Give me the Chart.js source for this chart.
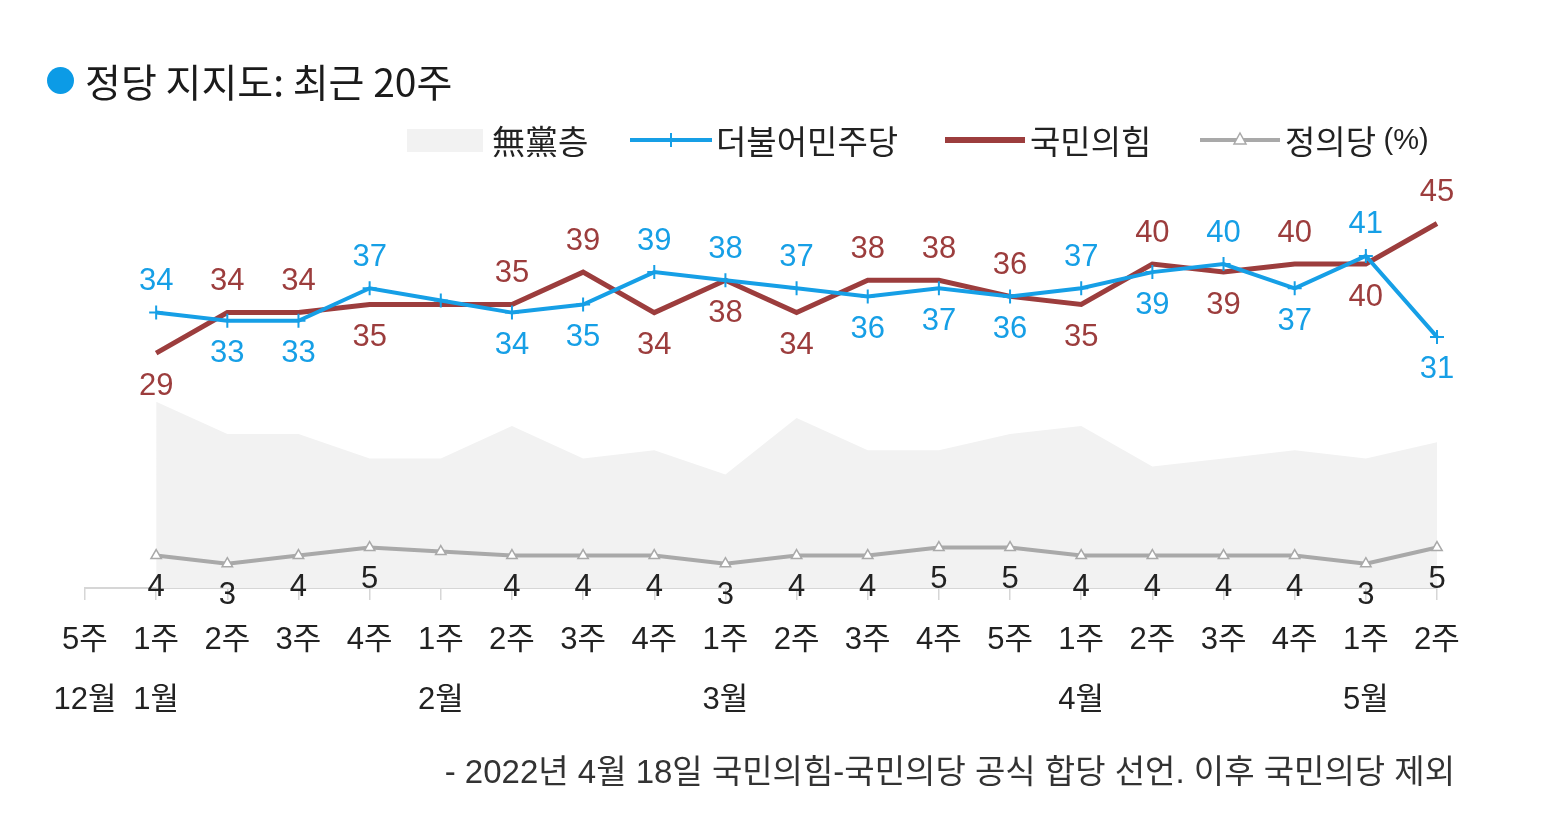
<!DOCTYPE html>
<html><head><meta charset="utf-8">
<script src="https://cdn.jsdelivr.net/npm/chart.js@4.4.1/dist/chart.umd.min.js"></script>
<style>
html,body{margin:0;padding:0;background:#fff;width:1567px;height:829px;overflow:hidden;}
#wrap{position:relative;width:1567px;height:829px;}
#c{position:absolute;left:0;top:0;}
.dot{position:absolute;left:47px;top:67px;width:27px;height:27px;border-radius:50%;background:#0c9be6;}
.title{position:absolute;left:85px;top:56px;height:48px;line-height:48px;font-family:'Noto Sans CJK KR',sans-serif;font-size:39px;color:#1b1b1b;white-space:nowrap;}
.note{position:absolute;right:112px;top:751px;line-height:42px;font-family:'Liberation Sans','Noto Sans CJK KR',sans-serif;font-size:33px;color:#333;white-space:nowrap;}
</style></head>
<body><div id="wrap"><canvas id="c" width="1567" height="829"></canvas>
<div class="dot"></div><div class="title">정당 지지도: 최근 20주</div>
<div class="note">- 2022년 4월 18일 국민의힘-국민의당 공식 합당 선언. 이후 국민의당 제외</div></div>
<script>
// ---- data ----
const weekLabels  = ['5주','1주','2주','3주','4주','1주','2주','3주','4주','1주','2주','3주','4주','5주','1주','2주','3주','4주','1주','2주'];
const monthLabels = ['12월','1월','','','','2월','','','','3월','','','','','4월','','','','5월',''];
const independents = [null,23,19,19,16,16,20,16,17,14,21,17,17,19,20,15,16,17,16,18];
const democratic   = [null,34,33,33,37,35.5,34,35,39,38,37,36,37,36,37,39,40,37,41,31];
const peoplePower  = [null,29,34,34,35,35,35,39,34,38,34,38,38,36,35,40,39,40,40,45];
const justice      = [null,4,3,4,5,4.5,4,4,4,3,4,4,5,5,4,4,4,4,3,5];
const noSurveyWeeks = [5];      // week without survey: no value label
const tieDemAbove = [9];        // equal values: which label goes above

const seriesNames = ['더불어민주당','국민의힘','정의당','無黨층'];
const C = {dem:'#169fe6', ppp:'#9c3d3d', jus:'#a9a9a9', ind:'#f2f2f2', text:'#222'};
const NUMFONT = '"Liberation Sans", Arial, sans-serif';
const KFONT = '"Noto Sans CJK KR", sans-serif';

const labelPlugin = {
  id:'valueLabels',
  afterDatasetsDraw(chart){
    const ctx = chart.ctx;
    const mDem = chart.getDatasetMeta(0), mPpp = chart.getDatasetMeta(1), mJus = chart.getDatasetMeta(2);
    ctx.save();
    ctx.font = '31px ' + NUMFONT;
    ctx.textAlign = 'center'; ctx.textBaseline = 'middle';
    for (let i = 0; i < weekLabels.length; i++) {
      if (democratic[i] == null || noSurveyWeeks.includes(i)) continue;
      const d = democratic[i], p = peoplePower[i];
      const demUp = d > p || (d === p && tieDemAbove.includes(i));
      const pd = mDem.data[i], pp = mPpp.data[i], pj = mJus.data[i];
      ctx.fillStyle = C.dem;
      ctx.fillText(String(d), pd.x, pd.y + (demUp ? -31 : 33));
      ctx.fillStyle = C.ppp;
      ctx.fillText(String(p), pp.x, pp.y + (demUp ? 33 : -31));
      ctx.fillStyle = C.text;
      ctx.fillText(String(justice[i]), pj.x, pj.y + 32);
    }
    ctx.restore();
  },
  afterDraw(chart){
    const ctx = chart.ctx;
    const y = 140;
    ctx.save();
    ctx.textBaseline = 'middle'; ctx.textAlign = 'left';
    // 無黨층 box
    ctx.fillStyle = C.ind; ctx.fillRect(407, 129, 76, 23);
    ctx.fillStyle = C.text; ctx.font = '33px ' + KFONT;
    ctx.fillText(seriesNames[3], 492, y + 1);
    // 더불어민주당
    ctx.strokeStyle = C.dem; ctx.lineWidth = 4;
    ctx.beginPath(); ctx.moveTo(630, y); ctx.lineTo(712, y); ctx.stroke();
    ctx.lineWidth = 2; ctx.beginPath(); ctx.moveTo(671, y - 7); ctx.lineTo(671, y + 7); ctx.stroke();
    ctx.fillText(seriesNames[0], 716, y + 1);
    // 국민의힘
    ctx.strokeStyle = C.ppp; ctx.lineWidth = 6;
    ctx.beginPath(); ctx.moveTo(945, y); ctx.lineTo(1025, y); ctx.stroke();
    ctx.fillText(seriesNames[1], 1030, y + 1);
    // 정의당
    ctx.strokeStyle = C.jus; ctx.lineWidth = 4;
    ctx.beginPath(); ctx.moveTo(1200, y); ctx.lineTo(1280, y); ctx.stroke();
    ctx.fillStyle = '#fff'; ctx.lineWidth = 1.5;
    ctx.beginPath(); ctx.moveTo(1240, y - 7); ctx.lineTo(1246, y + 4); ctx.lineTo(1234, y + 4); ctx.closePath();
    ctx.fill(); ctx.stroke();
    ctx.fillStyle = C.text;
    ctx.fillText(seriesNames[2], 1285, y + 1);
    const w = ctx.measureText(seriesNames[2] + ' ').width;
    ctx.font = '29px ' + NUMFONT;
    ctx.fillText('(%)', 1285 + w, y + 1);
    ctx.restore();
  }
};

new Chart(document.getElementById('c'), {
  type: 'line',
  data: {
    labels: weekLabels.map((w, i) => [w, monthLabels[i]]),
    datasets: [
      {label: seriesNames[0], data: democratic, borderColor: C.dem, borderWidth: 4, tension: 0,
       pointStyle: 'cross', pointRadius: 7, pointBorderWidth: 2, pointBorderColor: C.dem, pointHoverRadius: 7},
      {label: seriesNames[1], data: peoplePower, borderColor: C.ppp, borderWidth: 5, tension: 0, pointRadius: 0},
      {label: seriesNames[2], data: justice, borderColor: C.jus, borderWidth: 4, tension: 0,
       pointStyle: 'triangle', pointRadius: 6, pointBorderWidth: 1.5, pointBorderColor: C.jus, pointBackgroundColor: '#fff'},
      {label: seriesNames[3], data: independents, borderWidth: 0, borderColor: 'rgba(0,0,0,0)',
       backgroundColor: C.ind, fill: 'origin', pointRadius: 0, tension: 0}
    ]
  },
  options: {
    responsive: false,
    animation: false,
    layout: {padding: {left: 85, right: 130, top: 183, bottom: 0}},
    plugins: {legend: {display: false}, tooltip: {enabled: false}, title: {display: false}},
    scales: {
      x: {
        offset: false,
        afterFit(scale) { scale.height = 829 - 588; },
        grid: {display: true, drawOnChartArea: false, drawTicks: true, tickLength: 12, color: '#d6d6d6', lineWidth: 1.5},
        border: {display: true, color: '#d6d6d6', width: 2},
        ticks: {color: C.text, padding: 11, maxRotation: 0, autoSkip: false,
                font: {family: '"Liberation Sans", "Noto Sans CJK KR", sans-serif', size: 31, lineHeight: 1.92}}
      },
      y: {display: false, min: 0, max: 50}
    }
  },
  plugins: [labelPlugin]
});
</script>
</body></html>
